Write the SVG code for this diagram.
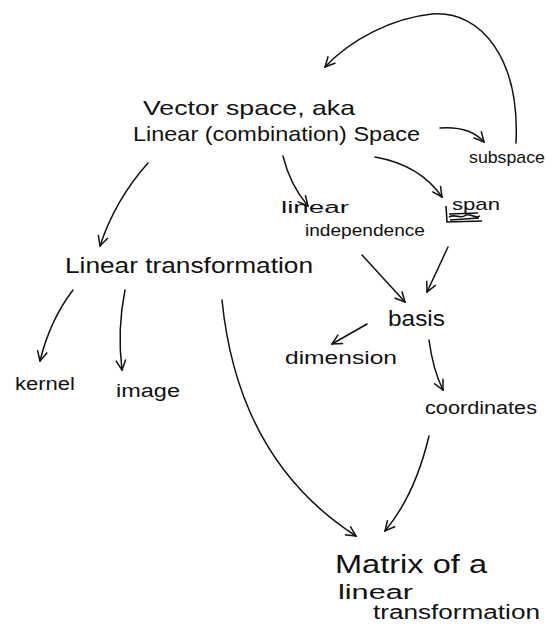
<svg xmlns="http://www.w3.org/2000/svg" width="554" height="634" viewBox="0 0 554 634">
<style>
  text { font-family: "Liberation Sans", "DejaVu Sans", sans-serif; fill: #111; }
  .c path { fill: none; stroke: #111; stroke-width: 1.5; stroke-linecap: round; marker-end: url(#v); }
  .scr { fill: none; stroke: #111; stroke-width: 1.6; }
</style>
<defs>
  <marker id="v" viewBox="0 0 12 12" refX="11" refY="6" markerWidth="12" markerHeight="12" markerUnits="userSpaceOnUse" orient="auto">
    <path d="M1,1 L11,6 L1,11" fill="none" stroke="#111" stroke-width="1.5"/>
  </marker>
</defs>
<rect width="554" height="634" fill="#fff"/>
<g class="c" id="connectors">
  <path d="M440,128 Q470,126 484,142"/>
  <path d="M516,143 C520,60 482,10 432,14 C392,18 350,40 325,67"/>
  <path d="M148,163 Q115,200 100,246"/>
  <path d="M283,156 Q290,185 308,206"/>
  <path d="M375,157 Q420,165 442,197"/>
  <path d="M73,290 Q50,320 40,361"/>
  <path d="M125,290 Q117,330 122,370"/>
  <path d="M222,300 Q238,460 356,536"/>
  <path d="M362,255 L405,302"/>
  <path d="M448,247 L427,292"/>
  <path d="M367,324 L332,344"/>
  <path d="M429,340 Q433,370 443,390"/>
  <path d="M429,436 Q415,495 385,531"/>
</g>
<g id="vector-space">
  <text x="143" y="115" font-size="21" textLength="212" lengthAdjust="spacingAndGlyphs">Vector space, aka</text>
  <text x="133" y="141" font-size="21" textLength="287" lengthAdjust="spacingAndGlyphs">Linear (combination) Space</text>
</g>
<g id="subspace"><text x="469" y="163" font-size="17" textLength="76" lengthAdjust="spacingAndGlyphs">subspace</text></g>
<g id="linear-independence">
  <text x="281" y="213" font-size="16" textLength="68" lengthAdjust="spacingAndGlyphs">linear</text>
  <text x="305" y="236" font-size="17" textLength="120" lengthAdjust="spacingAndGlyphs">independence</text>
</g>
<g id="span">
  <text x="452" y="210" font-size="17" textLength="48" lengthAdjust="spacingAndGlyphs">span</text>
  <path class="scr" d="M446,206 L447,222 L482,221 M449,214 L478,213 M449,217 C455,213 460,220 466,215 C470,213 474,219 480,216 M450,220 L479,218"/>
</g>
<g id="linear-transformation"><text x="65" y="273" font-size="22" textLength="248" lengthAdjust="spacingAndGlyphs">Linear transformation</text></g>
<g id="kernel"><text x="15" y="390" font-size="18" textLength="60" lengthAdjust="spacingAndGlyphs">kernel</text></g>
<g id="image"><text x="116" y="397" font-size="18" textLength="64" lengthAdjust="spacingAndGlyphs">image</text></g>
<g id="basis"><text x="388" y="326" font-size="22" textLength="57" lengthAdjust="spacingAndGlyphs">basis</text></g>
<g id="dimension"><text x="285" y="364" font-size="18" textLength="112" lengthAdjust="spacingAndGlyphs">dimension</text></g>
<g id="coordinates"><text x="425" y="414" font-size="18" textLength="112" lengthAdjust="spacingAndGlyphs">coordinates</text></g>
<g id="matrix">
  <text x="335" y="573" font-size="25" textLength="152" lengthAdjust="spacingAndGlyphs">Matrix of a</text>
  <text x="338" y="599" font-size="20" textLength="75" lengthAdjust="spacingAndGlyphs">linear</text>
  <text x="373" y="619" font-size="20" textLength="167" lengthAdjust="spacingAndGlyphs">transformation</text>
</g>
</svg>
